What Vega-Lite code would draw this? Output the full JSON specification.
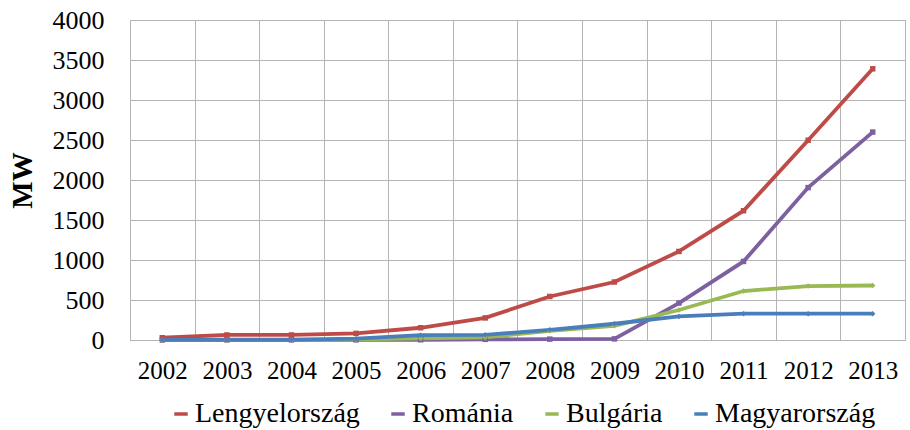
{
  "$schema": "https://vega.github.io/schema/vega-lite/v6.json",
  "autosize": {"type": "none"},
  "padding": {"left": 130, "top": 20, "right": 5, "bottom": 90},
  "width": 775,
  "height": 320,
  "background": "white",
  "config": {
    "view": {"stroke": "#b4b4b4", "strokeWidth": 1},
    "font": "Liberation Serif"
  },
  "data": {
    "values": [
      {"year": "2002", "country": "Lengyelország", "mw": 28},
      {"year": "2003", "country": "Lengyelország", "mw": 63},
      {"year": "2004", "country": "Lengyelország", "mw": 63},
      {"year": "2005", "country": "Lengyelország", "mw": 83},
      {"year": "2006", "country": "Lengyelország", "mw": 153},
      {"year": "2007", "country": "Lengyelország", "mw": 276},
      {"year": "2008", "country": "Lengyelország", "mw": 544},
      {"year": "2009", "country": "Lengyelország", "mw": 725},
      {"year": "2010", "country": "Lengyelország", "mw": 1107},
      {"year": "2011", "country": "Lengyelország", "mw": 1616},
      {"year": "2012", "country": "Lengyelország", "mw": 2497},
      {"year": "2013", "country": "Lengyelország", "mw": 3390},
      {"year": "2002", "country": "Románia", "mw": 0},
      {"year": "2003", "country": "Románia", "mw": 1},
      {"year": "2004", "country": "Románia", "mw": 1},
      {"year": "2005", "country": "Románia", "mw": 2},
      {"year": "2006", "country": "Románia", "mw": 3},
      {"year": "2007", "country": "Románia", "mw": 8},
      {"year": "2008", "country": "Románia", "mw": 11},
      {"year": "2009", "country": "Románia", "mw": 14},
      {"year": "2010", "country": "Románia", "mw": 462},
      {"year": "2011", "country": "Románia", "mw": 982},
      {"year": "2012", "country": "Románia", "mw": 1905},
      {"year": "2013", "country": "Románia", "mw": 2599},
      {"year": "2002", "country": "Bulgária", "mw": 0},
      {"year": "2003", "country": "Bulgária", "mw": 0},
      {"year": "2004", "country": "Bulgária", "mw": 1},
      {"year": "2005", "country": "Bulgária", "mw": 8},
      {"year": "2006", "country": "Bulgária", "mw": 20},
      {"year": "2007", "country": "Bulgária", "mw": 32},
      {"year": "2008", "country": "Bulgária", "mw": 114},
      {"year": "2009", "country": "Bulgária", "mw": 177},
      {"year": "2010", "country": "Bulgária", "mw": 375},
      {"year": "2011", "country": "Bulgária", "mw": 612},
      {"year": "2012", "country": "Bulgária", "mw": 674},
      {"year": "2013", "country": "Bulgária", "mw": 681},
      {"year": "2002", "country": "Magyarország", "mw": 3},
      {"year": "2003", "country": "Magyarország", "mw": 3},
      {"year": "2004", "country": "Magyarország", "mw": 3},
      {"year": "2005", "country": "Magyarország", "mw": 17},
      {"year": "2006", "country": "Magyarország", "mw": 61},
      {"year": "2007", "country": "Magyarország", "mw": 65},
      {"year": "2008", "country": "Magyarország", "mw": 127},
      {"year": "2009", "country": "Magyarország", "mw": 203},
      {"year": "2010", "country": "Magyarország", "mw": 295},
      {"year": "2011", "country": "Magyarország", "mw": 329},
      {"year": "2012", "country": "Magyarország", "mw": 329},
      {"year": "2013", "country": "Magyarország", "mw": 329}
    ]
  },
  "encoding": {
    "x": {
      "field": "year", "type": "ordinal",
      "scale": {"type": "band", "paddingInner": 0, "paddingOuter": 0},
      "bandPosition": 0.5,
      "axis": {
        "title": null, "labelAngle": 0, "tickBand": "extent", "ticks": false,
        "grid": true, "gridColor": "#b4b4b4", "gridWidth": 1,
        "domainColor": "#b4b4b4", "labelFont": "Liberation Serif", "labelFontSize": 25,
        "labelColor": "#000000", "labelPadding": 18
      }
    },
    "y": {
      "field": "mw", "type": "quantitative",
      "scale": {"domain": [0, 4000], "nice": false},
      "axis": {
        "values": [0, 500, 1000, 1500, 2000, 2500, 3000, 3500, 4000], "format": "d",
        "title": "MW", "titleFont": "Liberation Serif", "titleFontSize": 29, "titleFontWeight": "bold",
        "titleColor": "#000000", "titleAngle": -90, "titleX": -108, "titleY": 160,
        "titleAlign": "center", "titleBaseline": "middle",
        "ticks": false, "labelPadding": 26, "grid": true, "gridColor": "#b4b4b4",
        "domainColor": "#b4b4b4", "labelFont": "Liberation Serif", "labelFontSize": 26,
        "labelColor": "#000000"
      }
    },
    "color": {
      "field": "country", "type": "nominal",
      "scale": {
        "domain": ["Lengyelország", "Románia", "Bulgária", "Magyarország"],
        "range": ["#BE4B48", "#7D60A0", "#98B954", "#4A7EBB"]
      },
      "legend": {
        "title": null, "orient": "none", "direction": "horizontal", "columns": 4,
        "legendX": 37, "legendY": 380,
        "symbolType": "stroke", "symbolStrokeWidth": 3.5, "symbolSize": 180,
        "labelFont": "Liberation Serif", "labelFontSize": 28, "labelColor": "#000000",
        "labelOffset": 0, "columnPadding": 24, "labelLimit": 400
      }
    }
  },
  "layer": [
    {"mark": {"type": "line", "strokeWidth": 3.8}},
    {
      "transform": [{"filter": "datum.country == 'Lengyelország' || datum.country == 'Románia'"}],
      "mark": {"type": "point", "filled": true, "size": 30, "opacity": 1, "shape": "square"}
    },
    {
      "transform": [{"filter": "datum.country == 'Bulgária' || datum.country == 'Magyarország'"}],
      "mark": {"type": "point", "filled": true, "size": 30, "opacity": 1, "shape": "diamond"}
    }
  ]
}
